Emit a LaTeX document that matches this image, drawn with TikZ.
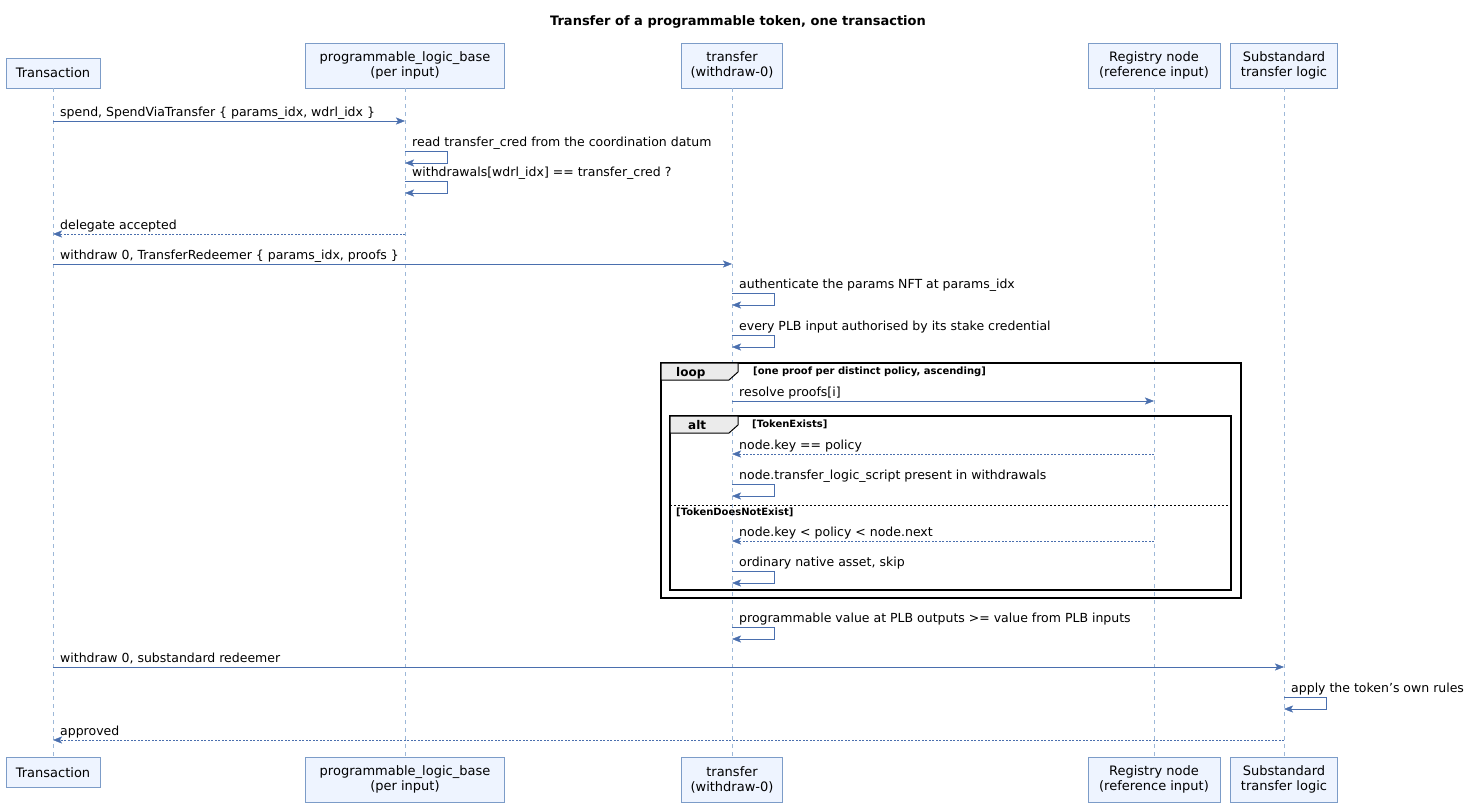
\documentclass[tikz,border=0pt]{standalone}
\usepackage{fontspec}
\setmainfont{DejaVu Sans}
\usetikzlibrary{arrows.meta}
\definecolor{pbox}{HTML}{EEF4FF}
\definecolor{pbord}{HTML}{7C9CC8}
\definecolor{pline}{HTML}{9DB8D8}
\definecolor{parr}{HTML}{4A6FAE}
\begin{document}
\begin{tikzpicture}[x=1pt,y=-1pt,
 part/.style={draw=pbord,fill=pbox,align=center,inner sep=4pt,font=\fontsize{13}{15}\selectfont,anchor=south},
 life/.style={draw=pline,dash pattern=on 4pt off 4pt},
 msg/.style={draw=parr,-{Stealth[length=9pt,width=7pt,inset=2pt]}},
 ret/.style={msg,dash pattern=on 2pt off 1.5pt},
 lab/.style={anchor=base west,font=\fontsize{12.5}{14}\selectfont,inner sep=0pt},
 flab/.style={font=\bfseries\fontsize{10}{12}\selectfont,anchor=base west,inner sep=0pt},
 frame/.style={draw=black,line width=1.5pt}]
\useasboundingbox (0,0) rectangle (1476,807);
\node[font=\bfseries\fontsize{13}{15}\selectfont] (title) at (738,22) {Transfer of a programmable token, one transaction};
% top participants
\node[part,minimum width=94pt,minimum height=30pt] (t1) at (53,88) {Transaction};
\node[part,minimum width=199pt,minimum height=45pt] (p1) at (405,88) {programmable\_logic\_base\\(per input)};
\node[part,minimum width=101pt,minimum height=45pt] (f1) at (732,88) {transfer\\(withdraw-0)};
\node[part,minimum width=132pt,minimum height=45pt] (r1) at (1154,88) {Registry node\\(reference input)};
\node[part,minimum width=107pt,minimum height=45pt] (s1) at (1284,88) {Substandard\\transfer logic};
% bottom
\node[part,anchor=north,minimum width=94pt,minimum height=30pt] (t2) at (53,757) {Transaction};
\node[part,anchor=north,minimum width=199pt,minimum height=45pt] (p2) at (405,757) {programmable\_logic\_base\\(per input)};
\node[part,anchor=north,minimum width=101pt,minimum height=45pt] (f2) at (732,757) {transfer\\(withdraw-0)};
\node[part,anchor=north,minimum width=132pt,minimum height=45pt] (r2) at (1154,757) {Registry node\\(reference input)};
\node[part,anchor=north,minimum width=107pt,minimum height=45pt] (s2) at (1284,757) {Substandard\\transfer logic};
\foreach \a in {t,p,f,r,s} \draw[life] (\a1.south) -- (\a2.north);
% helpers
\newcommand{\smsg}[5]{% style, x1, x2, y, label
 \coordinate (a) at (#2,#4); \coordinate (b) at (#3,#4);
 \draw[#1] (a) -- (b);
 \pgfmathsetmacro{\xm}{min(#2,#3)}
 \node[lab] at (\xm+7,#4-5) {#5};}
\newcommand{\self}[3]{% x, y, label
 \coordinate (c1) at (#1,#2); \coordinate (c2) at (#1,#2+12);
 \draw[msg] (c1) -- ++(42,0) -- ++(0,12) -- (c2);
 \node[lab] at (#1+7,#2-5) {#3};}
\smsg{msg}{53}{405}{121}{spend, SpendViaTransfer \{ params\_idx, wdrl\_idx \}}
\self{405}{151}{read transfer\_cred from the coordination datum}
\self{405}{181}{withdrawals[wdrl\_idx] == transfer\_cred ?}
\smsg{ret}{405}{53}{234}{delegate accepted}
\smsg{msg}{53}{732}{264}{withdraw 0, TransferRedeemer \{ params\_idx, proofs \}}
\self{732}{293}{authenticate the params NFT at params\_idx}
\self{732}{335}{every PLB input authorised by its stake credential}
% loop frame
\draw[frame] (661,363) rectangle (1241,598);
\draw[line width=1pt,fill=black!8] (661,363) -- (738,363) -- (738,372) -- (729,380) -- (661,380) -- cycle;
\node[flab,font=\bfseries\fontsize{12}{14}\selectfont] at (676,376) {loop};
\node[flab] at (753,374) {[one proof per distinct policy, ascending]};
\smsg{msg}{732}{1154}{401}{resolve proofs[i]}
% alt frame
\draw[frame] (670,416) rectangle (1231,590);
\draw[line width=1pt,fill=black!8] (670,416) -- (738,416) -- (738,425) -- (729,433) -- (670,433) -- cycle;
\node[flab,font=\bfseries\fontsize{12}{14}\selectfont] at (688,429) {alt};
\node[flab] at (752,427) {[TokenExists]};
\smsg{ret}{1154}{732}{454}{node.key == policy}
\self{732}{484}{node.transfer\_logic\_script present in withdrawals}
\draw[dash pattern=on 2pt off 2pt] (670,505) -- (1231,505);
\node[flab] at (676,515) {[TokenDoesNotExist]};
\smsg{ret}{1154}{732}{541}{node.key < policy < node.next}
\self{732}{571}{ordinary native asset, skip}
\self{732}{627}{programmable value at PLB outputs >= value from PLB inputs}
\smsg{msg}{53}{1284}{667}{withdraw 0, substandard redeemer}
\self{1284}{697}{apply the token's own rules}
\smsg{ret}{1284}{53}{740}{approved}
\end{tikzpicture}
\end{document}
